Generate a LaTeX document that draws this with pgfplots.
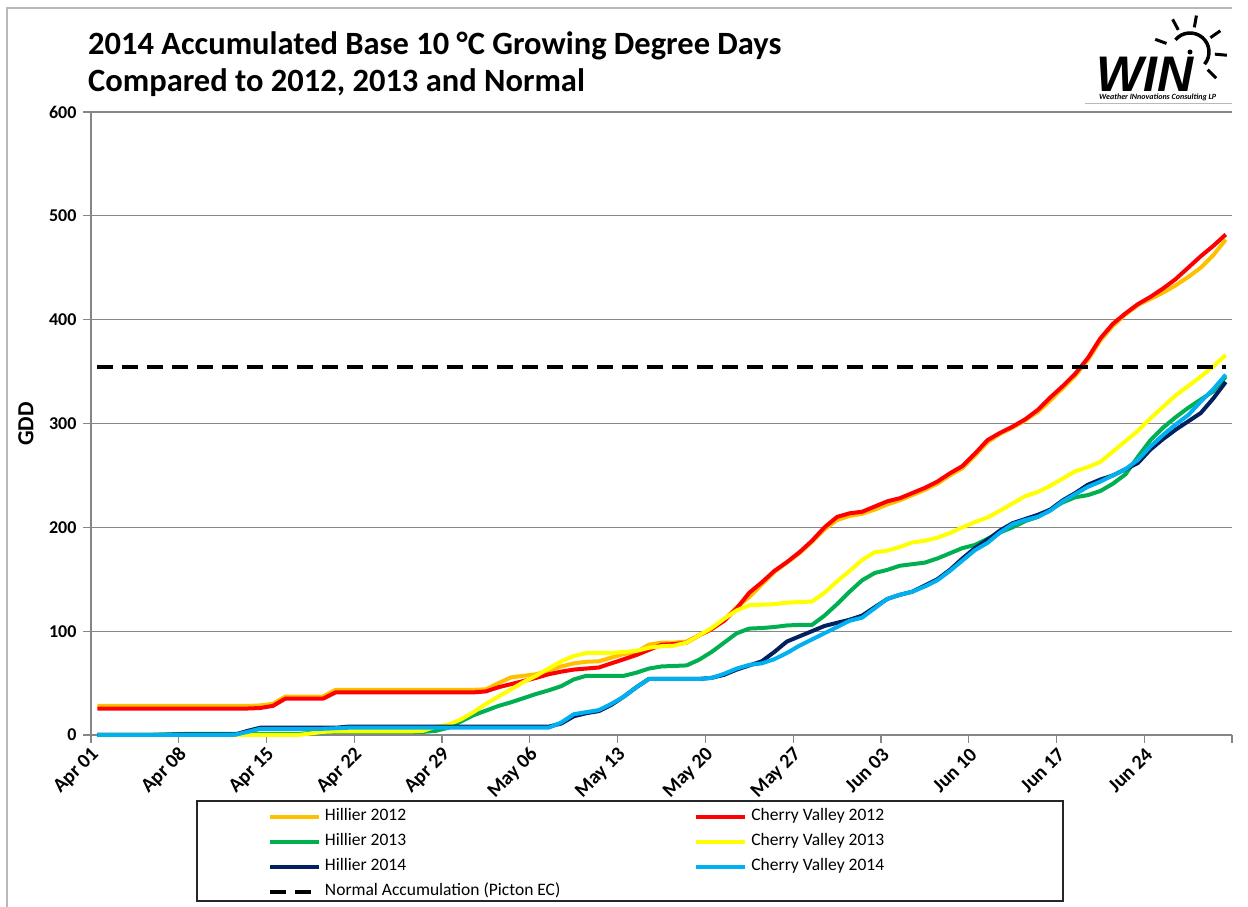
\documentclass[border=0pt]{standalone}
\usepackage{fontspec}
\setmainfont{Carlito}
\newfontfamily\logofont{Liberation Sans}
\usepackage{pgfplots}
\usepackage{pgfplotstable}
\pgfplotsset{compat=1.18}
\definecolor{cOrange}{HTML}{FFC000}
\definecolor{cRed}{HTML}{FF0000}
\definecolor{cGreen}{HTML}{00B050}
\definecolor{cYellow}{HTML}{FFFF00}
\definecolor{cNavy}{HTML}{002060}
\definecolor{cSky}{HTML}{00B0F0}
\definecolor{cGrid}{HTML}{868686}

\pgfplotstableread{
d h12 c12 h13 c13 h14 c14
0 28 25.5 0 0 0 0
1 28 25.5 0 0 0 0
2 28 25.5 0 0 0 0
3 28 25.5 0 0 0 0
4 28 25.5 0 0 0 0
5 28 25.5 0.5 0 0 0
6 28 25.5 0.5 0 0.5 0
7 28 25.5 1 0 0.5 0
8 28 25.5 1 0 0.5 0
9 28 25.5 1 0 0.5 0
10 28 25.5 1 0 0.5 0
11 28 25.5 1 0 0.5 0.3
12 28 25.5 1 0 4 3
13 28.5 26 1 0 7 6
14 30 28 1 0 7 6
15 37 35 1 0 7 6
16 37 35 1 0 7 6
17 37 35 2 1.5 7 6
18 37 35 2.5 3 7 6
19 43.5 41 3 3.5 7 6.5
20 43.5 41 3 3.5 8 7
21 43.5 41 3 3.5 8 7
22 43.5 41 3 3.5 8 7
23 43.5 41 3 3.5 8 7
24 43.5 41 3 3.5 8 7
25 43.5 41 3 3.5 8 7
26 43.5 41 3 4 8 7
27 43.5 41 4 8 8 7
28 43.5 41 7 10 8 7
29 43.5 41 13 15 8 7
30 43.5 41 19 22 8 7
31 44 42 23.5 30 8 7
32 50 46 28 37 8 7
33 55.5 49 31.5 44 8 7
34 57 52 35.5 51 8 7
35 58.5 55 39.5 57 8 7
36 62 58.5 43 64 8 7
37 66 61 47 71 11 12
38 69 63 53.5 76 18 20
39 70.5 64 57 79 21 22
40 71 65 57 79 23 24
41 74.5 69 57 79 29 30
42 78 73 57 80 37 37
43 80 77 60 81 46 46
44 87 82 64 84 54 54
45 89 87 66 85.5 54 54
46 89 87.5 66.5 86 54 54
47 90 89 67 89 54 54
48 96 96 72.5 96 54 54
49 102 102 80 103 55 55
50 111 110 89 112 58 59
51 123 122 98 120 63 64
52 133 137 102.5 125 67 67.5
53 145 147 103 125.5 71 69
54 157 158 104 126 80 73
55 166 166.5 105.5 127.5 90 79
56 175 176 106 128 95 86
57 186 187 106 128.5 100 92
58 198 200 115 137 105 98
59 207 210 126 148 108 104
60 211 213.5 138 158 111 110
61 213 215 149 168.5 115 113
62 217 220 156 176 123 122
63 222 225 159 177.5 131 131
64 226 228 163 181 135 135
65 231 233 164.5 185.5 138 138
66 236 238 166 187 144 143
67 242 244 170 190 150 149
68 250 252 175 194.5 159 158
69 257 259 180 200 170 168
70 269 271 183 205 180 178
71 282 284 189 209.5 188 185
72 290 291 195 216 197 195
73 296 297 200 223 204 203
74 303 304 206 230 208 207
75 311 313 210 234 212 210
76 322 325 217 240 217 216
77 334 336 224 247 226 225
78 346 348 229 254 233 232
79 361 363 231 258 241 239
80 380 382 235 263 246 244
81 394 396 242 273 250 250
82 405 406 251 283 256 256
83 414 415 268 293 262 265
84 420 422 284 305 275 278
85 426 430 296 316 285 289
86 433 439 306 327 294 299
87 441 450 315 336 302 308
88 450 461 323 345 310 321
89 462 471 331 355 324 333
90 477 482 345 366 340 347
}\gdd

\pgfplotstableread{
d n
0 354
90 354
}\normal

\begin{document}
\begin{tikzpicture}[x=1bp,y=1bp]
\useasboundingbox (0,0) rectangle (1248,907);
% outer frame
\draw[gray!55, line width=1.2bp] (7,0) -- (7,899) -- (1232,899);
% title
\node[anchor=base west, inner sep=0pt, font=\fontsize{32.5bp}{38bp}\selectfont\bfseries] at (88,852) {2014 Accumulated Base 10 °C Growing Degree Days};
\node[anchor=base west, inner sep=0pt, font=\fontsize{32.5bp}{38bp}\selectfont\bfseries] at (88,815) {Compared to 2012, 2013 and Normal};
% y label
\node[rotate=90, font=\fontsize{23bp}{26bp}\selectfont\bfseries] at (26,483) {GDD};
% logo
\node[anchor=base west, inner sep=0pt, text depth=0pt, font=\logofont\fontsize{50bp}{50bp}\selectfont\bfseries\itshape] at (1096,815) {WIN};
\draw[line width=3.5bp] (1190,855) ++(140:19) arc[start angle=140, end angle=-40, radius=19];
\foreach \a in {160,118,80,35,-5,-45} {\draw[line width=3bp] (1190,855) ++(\a:25) -- ++(\a:12);}
\fill (1190,855) circle (2.5);
\node[anchor=base west, inner sep=0pt, text height=6bp, text depth=0pt, font=\fontsize{8bp}{9bp}\selectfont\bfseries\itshape] at (1099,807) {Weather INnovations Consulting LP};
\draw[gray!55, line width=1bp] (1085,803) -- (1232,803);
% legend frame
\draw[black!85, line width=1.2bp] (197,106) rectangle (1063,6);

\begin{axis}[
  at={(91bp,172bp)}, anchor=south west,
  width=1141bp, height=623bp, scale only axis,
  xmin=-0.5, xmax=90.5, ymin=0, ymax=600,
  axis lines*=left,
  axis line style={cGrid, line width=1.2bp},
  xtick={-0.5,6.5,...,90.5}, xticklabels={},
  extra x ticks={0,7,...,84},
  extra x tick labels={Apr 01,Apr 08,Apr 15,Apr 22,Apr 29,May 06,May 13,May 20,May 27,Jun 03,Jun 10,Jun 17,Jun 24},
  extra x tick style={major tick length=0pt, xticklabel style={font=\fontsize{20bp}{22bp}\selectfont\bfseries, xshift=1bp, yshift=-14bp, rotate=45, anchor=east}},
  ytick={0,100,...,600},
  ymajorgrids, grid style={cGrid, line width=1.2bp},
  tick align=outside, major tick length=8bp,
  tick style={cGrid, line width=1.2bp},
  tick label style={font=\fontsize{18bp}{20bp}\selectfont\bfseries, /pgf/number format/assume math mode=true, black},
  yticklabel style={xshift=-3bp},
  clip=false,
  legend columns=2,
  legend cell align=left,
  legend image code/.code={\draw[#1] (0bp,0bp) -- (49bp,0bp);},
  legend style={at={(0.1551,-0.118)}, anchor=north west, draw=none, fill=none,
    inner sep=0pt, outer sep=0pt,
    font=\fontsize{17.5bp}{20bp}\selectfont,
    nodes={inner xsep=2bp, inner ysep=0bp, text height=12bp, text depth=4bp},
    row sep=9bp,
    /tikz/every odd column/.append style={column sep=2bp},
    /tikz/every even column/.append style={column sep=132bp}},
  every axis plot/.append style={line width=4bp, line join=round},
]
\addplot[cOrange] table[x=d, y=h12] {\gdd};
\addlegendentry{Hillier 2012}
\addplot[cRed] table[x=d, y=c12] {\gdd};
\addlegendentry{Cherry Valley 2012}
\addplot[cGreen] table[x=d, y=h13] {\gdd};
\addlegendentry{Hillier 2013}
\addplot[cYellow] table[x=d, y=c13] {\gdd};
\addlegendentry{Cherry Valley 2013}
\addplot[cNavy] table[x=d, y=h14] {\gdd};
\addlegendentry{Hillier 2014}
\addplot[cSky] table[x=d, y=c14] {\gdd};
\addlegendentry{Cherry Valley 2014}
\addplot[black, dash pattern=on 16bp off 9bp] table[x=d, y=n] {\normal};
\addlegendentry{Normal Accumulation (Picton EC)}
\end{axis}
\end{tikzpicture}
\end{document}
